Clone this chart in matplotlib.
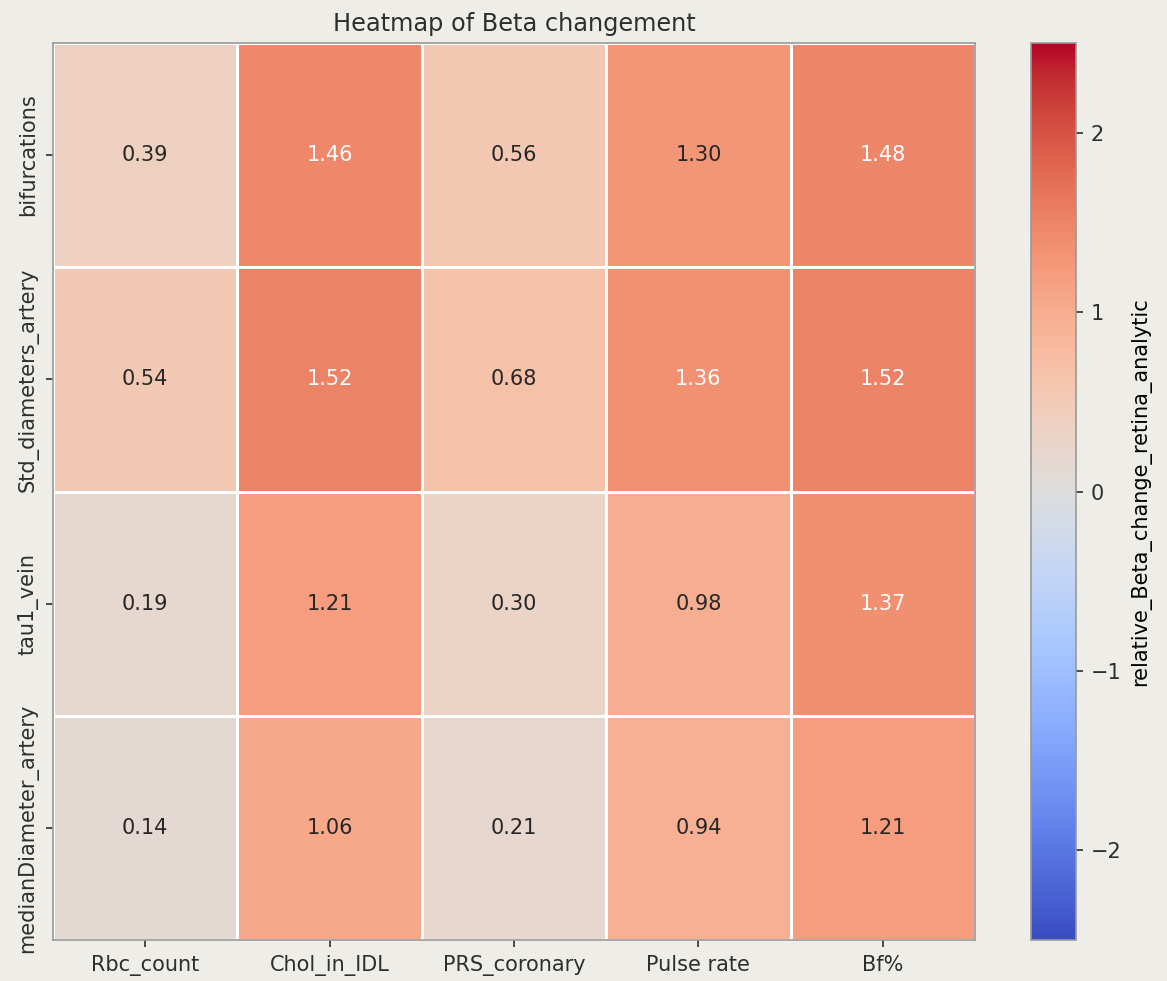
import numpy as np
import pandas as pd
import seaborn as sns
import matplotlib.pyplot as plt

rows = ["bifurcations", "Std_diameters_artery", "tau1_vein", "medianDiameter_artery"]
cols = ["Rbc_count", "Chol_in_IDL", "PRS_coronary", "Pulse rate", "Bf%"]

bifurcations = [0.39, 1.46, 0.56, 1.30, 1.48]
std_diameters_artery = [0.54, 1.52, 0.68, 1.36, 1.52]
tau1_vein = [0.19, 1.21, 0.30, 0.98, 1.37]
median_diameter_artery = [0.14, 1.06, 0.21, 0.94, 1.21]

df = pd.DataFrame([bifurcations, std_diameters_artery, tau1_vein, median_diameter_artery],
                  index=rows, columns=cols)

bg = "#eeede8"
plt.rcParams["font.size"] = 10
plt.rcParams["text.color"] = "#2e2e2e"
plt.rcParams["xtick.color"] = "#2e2e2e"
plt.rcParams["ytick.color"] = "#2e2e2e"

fig = plt.figure(figsize=(1167 / 150, 981 / 150), dpi=150, facecolor=bg)
ax = fig.add_axes([53 / 1167, 1 - 940 / 981, (975 - 53) / 1167, (940 - 43) / 981])
cax = fig.add_axes([1031 / 1167, 1 - 940 / 981, (1076 - 1031) / 1167, (940 - 43) / 981])

sns.heatmap(df, ax=ax, cbar_ax=cax, cmap="coolwarm", vmin=-2.5, vmax=2.5,
            annot=True, fmt=".2f", linewidths=0.7, linecolor="white",
            annot_kws={"fontsize": 10},
            cbar_kws={"label": "relative_Beta_change_retina_analytic"})

ax.set_title("Heatmap of Beta changement", fontsize=11.5)
ax.set_xticklabels(ax.get_xticklabels(), rotation=0)
ax.set_yticklabels(ax.get_yticklabels(), rotation=90, va="center")
ax.set_xlabel("")
ax.set_ylabel("")
for s in ax.spines.values():
    s.set_visible(True)
    s.set_color("#999999")
    s.set_linewidth(0.8)
cbar = ax.collections[0].colorbar
cbar.outline.set_visible(True)
cbar.outline.set_edgecolor("#999999")
cbar.outline.set_linewidth(0.8)

fig.savefig("out.png", dpi=150, facecolor=bg)
